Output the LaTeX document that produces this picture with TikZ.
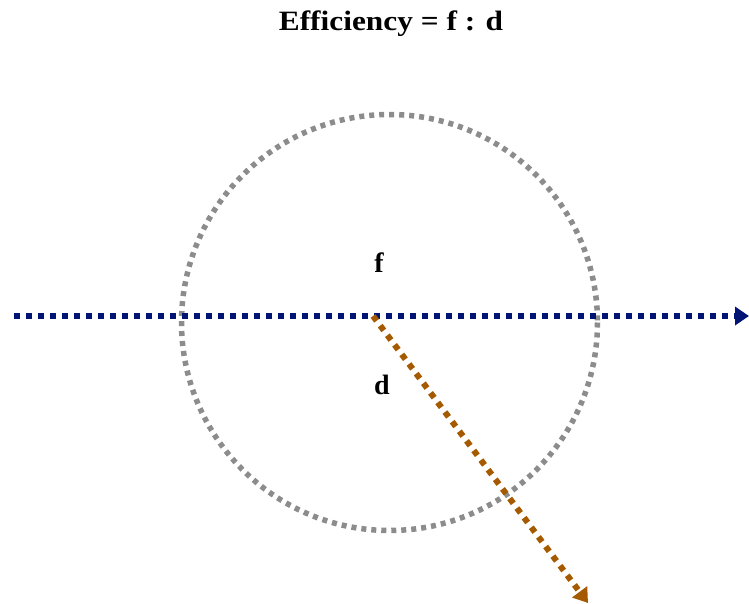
\documentclass[tikz,border=0pt]{standalone}
\usepackage{fontspec}
\setmainfont{Liberation Serif}
\usetikzlibrary{arrows.meta}
\definecolor{navyc}{RGB}{0,20,115}
\definecolor{brownc}{RGB}{166,90,0}
\definecolor{grayc}{RGB}{140,140,140}
\begin{document}
\begin{tikzpicture}[x=1pt,y=-1pt,
  lbl/.style={font=\fontsize{28}{32}\selectfont\bfseries, inner sep=0pt},
  dotline/.style={line width=6pt, dash pattern=on 6pt off 6pt},
  tip/.style={-{Triangle[length=14pt,width=18pt]}}]
\useasboundingbox (0,0) rectangle (749,603);
\node[lbl, xscale=1.12] (title) at (391,24) {Efficiency = f : d};
\node[lbl] (f) at (379,263) {f};
\node[lbl] (d) at (382,385) {d};
\coordinate (c) at (389.5,322.5);
\draw[dotline, grayc, line width=5.5pt, dash pattern=on 5pt off 5pt] (c) circle (208);
\coordinate (l) at (14,316);
\coordinate (r) at (749,316);
\coordinate (o) at (373,316);
\coordinate (e) at (588,603);
\draw[dotline, navyc, tip] (l) -- (r);
\draw[dotline, brownc, tip] (o) -- (e);
\end{tikzpicture}
\end{document}
